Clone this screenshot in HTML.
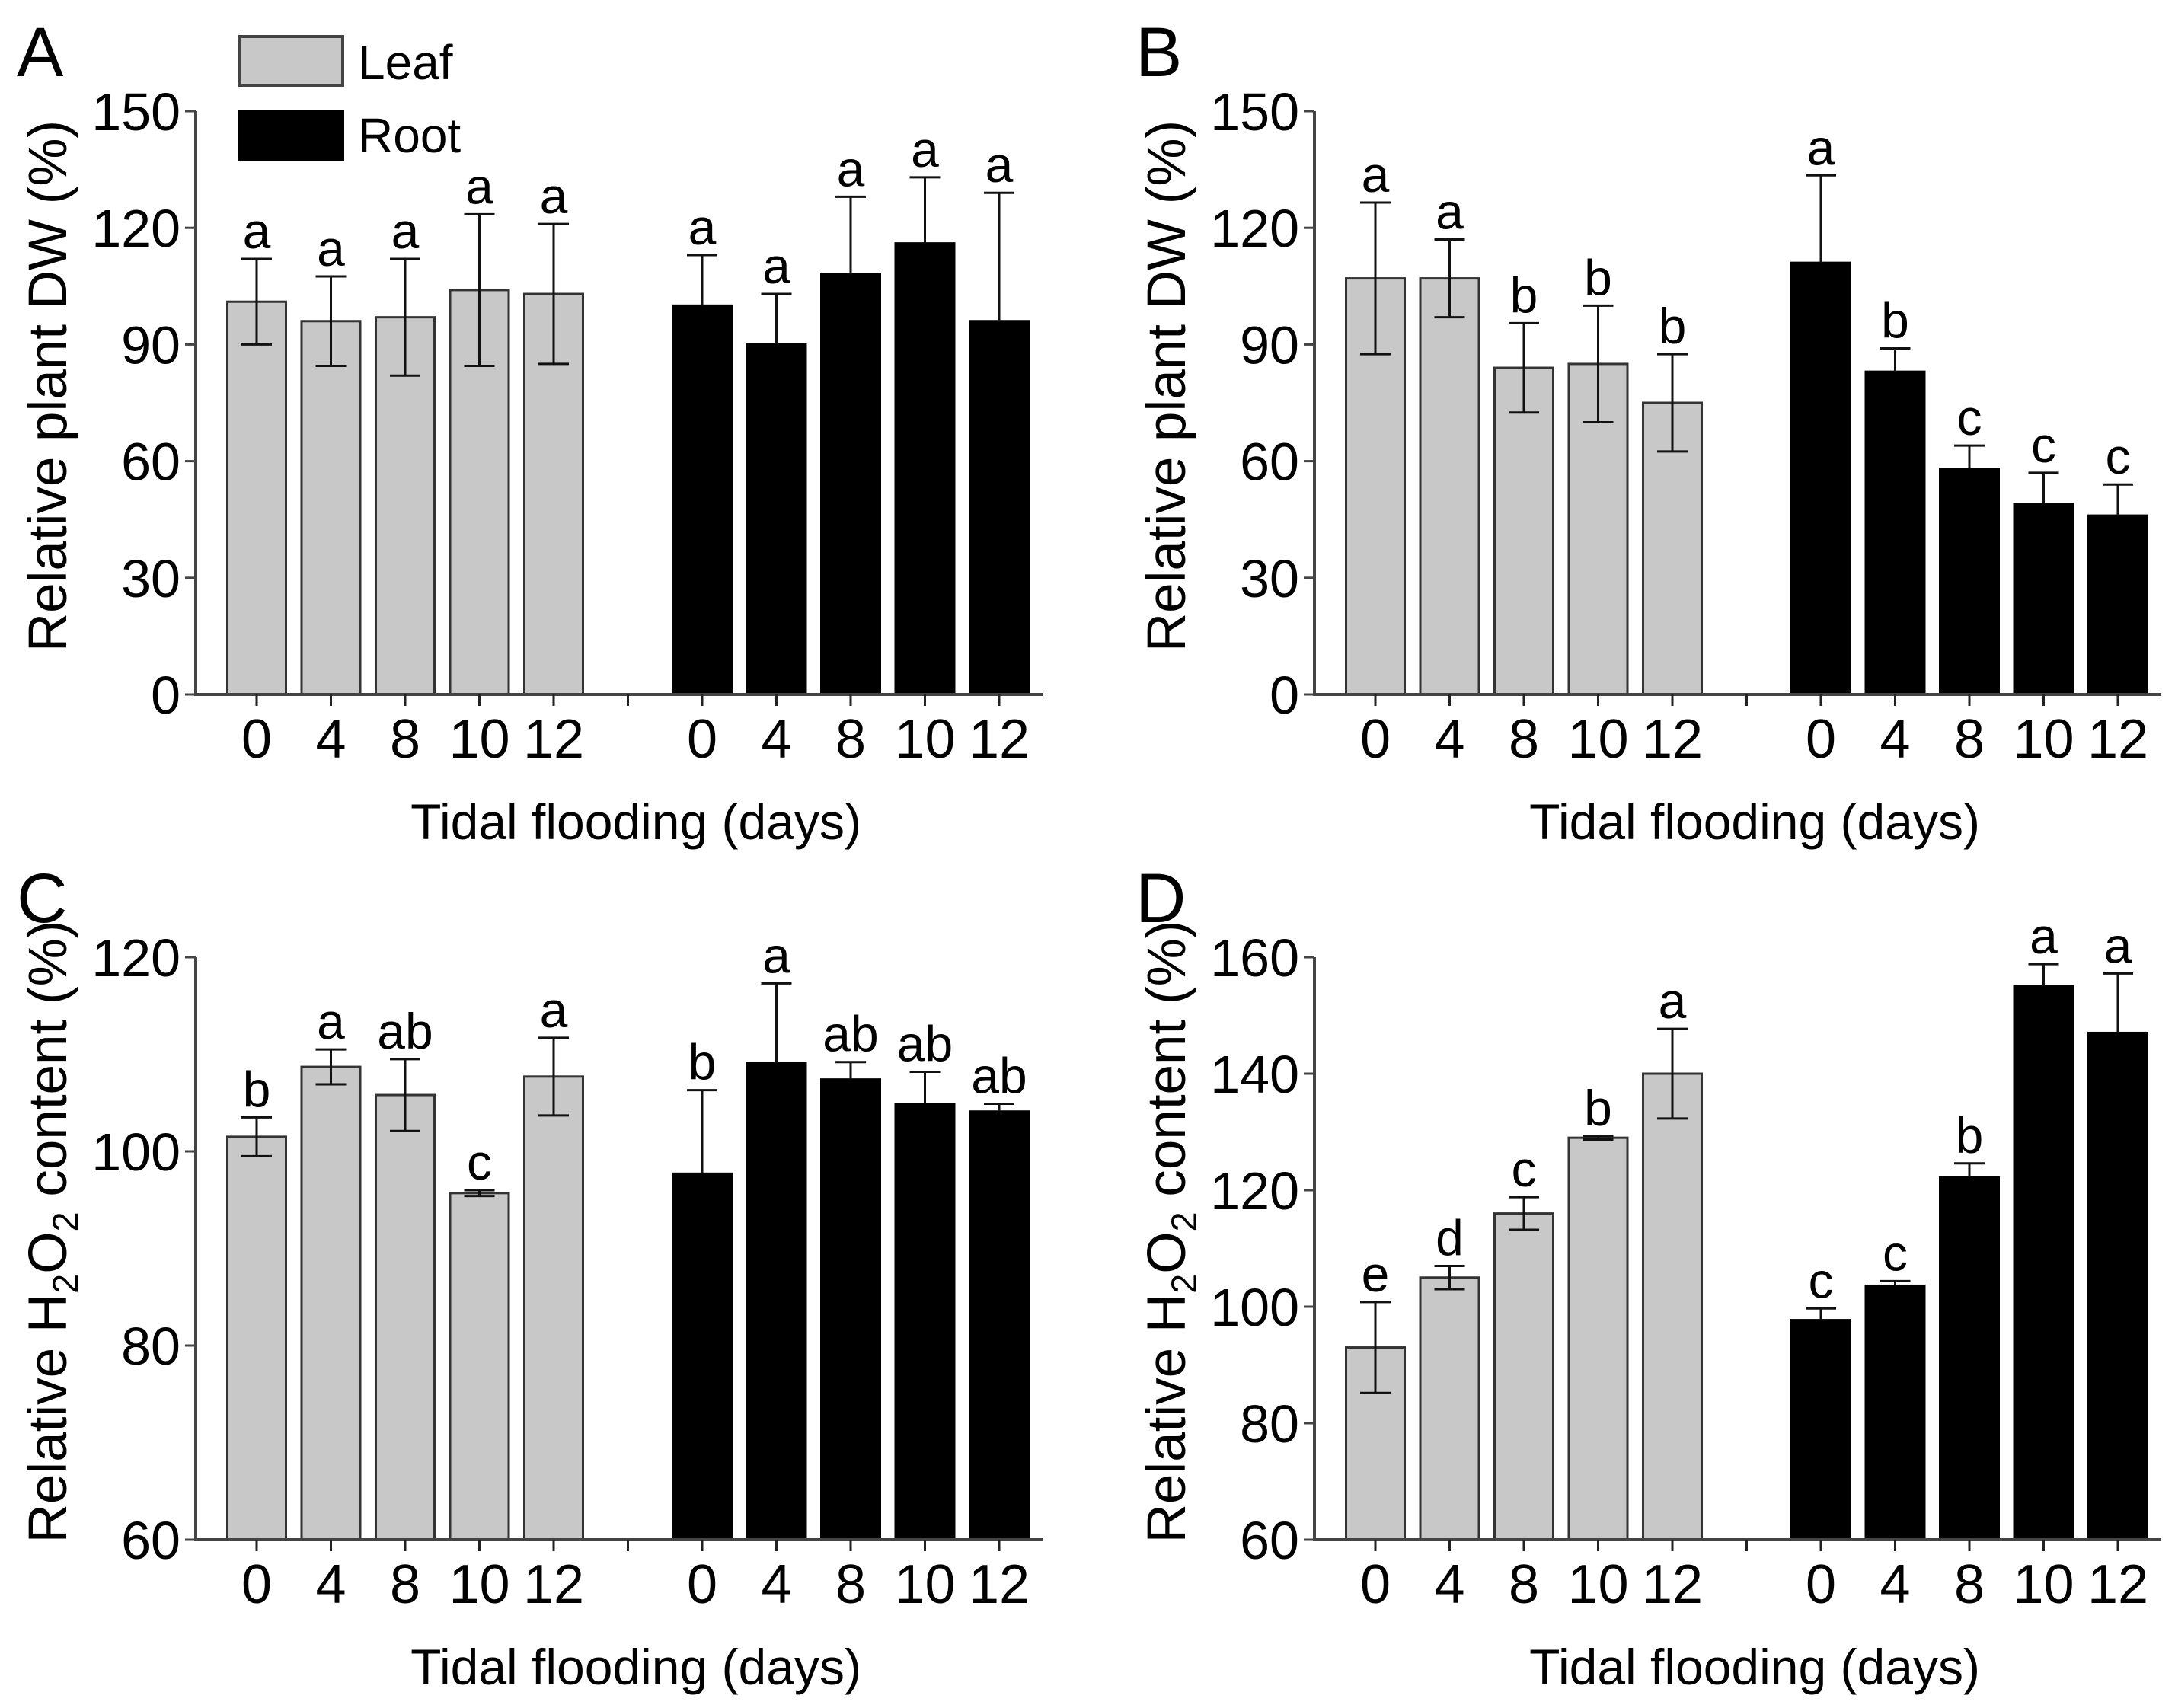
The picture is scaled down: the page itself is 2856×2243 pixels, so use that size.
<!DOCTYPE html>
<html><head><meta charset="utf-8"><style>
html,body{margin:0;padding:0;background:#fff;}
svg{display:block;font-family:"Liberation Sans",Arial,sans-serif;}
</style></head><body>
<svg id="fig" width="2856" height="2243" viewBox="0 0 2856 2243" xmlns="http://www.w3.org/2000/svg"></svg>
<script>
const categories = ["0","4","8","10","12"];
const aLeaf = [101,96,97,104,103];
const aLeafErr = [11,11.5,15,19.5,18];
const aRoot = [100,90,108,116,96];
const aRootErr = [13,13,20,17,33];
const aLeafLetters = ["a","a","a","a","a"];
const aRootLetters = ["a","a","a","a","a"];
const bLeaf = [107,107,84,85,75];
const bLeafErr = [19.5,10,11.5,15,12.5];
const bRoot = [111,83,58,49,46];
const bRootErr = [22.5,6,6,8,8];
const bLeafLetters = ["a","a","b","b","b"];
const bRootLetters = ["a","b","c","c","c"];
const cLeaf = [101.5,108.7,105.8,95.7,107.7];
const cLeafErr = [2,1.8,3.7,0.3,4];
const cRoot = [97.7,109.1,107.4,104.9,104.1];
const cRootErr = [8.6,8.2,1.8,3.3,0.8];
const cLeafLetters = ["b","a","ab","c","a"];
const cRootLetters = ["b","a","ab","ab","ab"];
const dLeaf = [93,105,116,129,140];
const dLeafErr = [7.8,2,2.8,0.3,7.7];
const dRoot = [97.7,103.6,122.2,155,147];
const dRootErr = [2,0.8,2.4,3.8,10.2];
const dLeafLetters = ["e","d","c","b","a"];
const dRootLetters = ["c","c","b","a","a"];
const ticksAB = [0,30,60,90,120,150];
const ticksC = [60,80,100,120];
const ticksD = [60,80,100,120,140,160];

const NS="http://www.w3.org/2000/svg";
const svg=document.getElementById('fig');
function mk(tag,attrs,parent,text){const e=document.createElementNS(NS,tag);for(const k in attrs)e.setAttribute(k,attrs[k]);if(text!==undefined)e.textContent=text;(parent||svg).appendChild(e);return e;}

function panel(id,letter,x0,yBot,yTop,ymin,ymax,ticks,leaf,leafErr,root,rootErr,lL,rL,ytitle,h2o2){
  const g=mk('g',{});
  
  
  const y=v=>yBot-(v-ymin)/(ymax-ymin)*(yBot-yTop);
  const xc=i=>x0+80+i*97.5;
  const bw=77;
  const lt=mk('text',{x:x0-235,y:yTop-46,'font-size':92},g,letter);
  
  
  const groups=[[leaf,leafErr,lL,0,'#c8c8c8','leaf'],[root,rootErr,rL,6,'#000','root']];
  groups.forEach(([vals,errs,lets,off,fill,nm])=>{
    vals.forEach((v,i)=>{
      const cx=xc(i+off);
      const top=y(v);
      const r=mk('rect',{x:cx-bw/2,y:top,width:bw,height:yBot-top,fill:fill,stroke:nm==='leaf'?'#333':'#000','stroke-width':3},g);
      
      
      const hi=y(v+errs[i]),lo=y(v-errs[i]);
      const d = nm==='leaf' ? `M${cx},${lo}V${hi}M${cx-20},${hi}H${cx+20}M${cx-20},${lo}H${cx+20}` : `M${cx},${top}V${hi}M${cx-20},${hi}H${cx+20}`;
      const eb=mk('path',{d:d,stroke:'#111','stroke-width':3,fill:'none'},g);
      
      
      const t=mk('text',{x:cx,y:hi-14,'font-size':66,'text-anchor':'middle'},g,lets[i]);
      
      
    });
  });
  const ax=mk('path',{d:`M${x0},${yTop}V${yBot}H${x0+1112}`,stroke:'#444','stroke-width':4,fill:'none'},g);
  
  
  ticks.forEach(v=>{
    mk('line',{x1:x0-14,x2:x0,y1:y(v),y2:y(v),stroke:'#444','stroke-width':3},g);
    const t=mk('text',{x:x0-20,y:y(v)+25,'font-size':70,'text-anchor':'end'},g,String(v));
    
    
  });
  for(let i=0;i<11;i++){
    const cx=xc(i);
    mk('line',{x1:cx,x2:cx,y1:yBot,y2:yBot+15,stroke:'#222','stroke-width':3},g);
    if(i!==5){
      const t=mk('text',{x:cx,y:yBot+83,'font-size':72,'text-anchor':'middle'},g,categories[i<5?i:i-6]);
      
      
    }
  }
  const xt=mk('text',{x:x0+578,y:yBot+190,'font-size':66,'text-anchor':'middle'},g,'Tidal flooding (days)');
  
  
  const cy=(yTop+yBot)/2-22;
  const yt=mk('text',{x:0,y:0,'font-size':71,'text-anchor':'middle',transform:`translate(${x0-170},${cy}) rotate(-90)`},g);
  
  
  if(h2o2){
    mk('tspan',{},yt,'Relative H');
    mk('tspan',{'font-size':47,dy:15},yt,'2');
    mk('tspan',{dy:-15},yt,'O');
    mk('tspan',{'font-size':47,dy:15},yt,'2');
    mk('tspan',{dy:-15},yt,' content (%)');
  } else yt.textContent=ytitle;
}
panel('a','A',257,912,146,0,150,ticksAB,aLeaf,aLeafErr,aRoot,aRootErr,aLeafLetters,aRootLetters,'Relative plant DW (%)',false);
panel('b','B',1726,912,146,0,150,ticksAB,bLeaf,bLeafErr,bRoot,bRootErr,bLeafLetters,bRootLetters,'Relative plant DW (%)',false);
panel('c','C',257,2022,1257,60,120,ticksC,cLeaf,cLeafErr,cRoot,cRootErr,cLeafLetters,cRootLetters,'',true);
panel('d','D',1726,2022,1257,60,160,ticksD,dLeaf,dLeafErr,dRoot,dRootErr,dLeafLetters,dRootLetters,'',true);

const lg=mk('g',{});


const l1=mk('rect',{x:315,y:48,width:135,height:64,fill:'#c8c8c8',stroke:'#444','stroke-width':4},lg);


const l1t=mk('text',{x:470,y:104,'font-size':64},lg,'Leaf');


const l2=mk('rect',{x:315,y:146,width:135,height:64,fill:'#000',stroke:'#000','stroke-width':4},lg);


const l2t=mk('text',{x:470,y:200,'font-size':64},lg,'Root');


</script>
</body></html>
